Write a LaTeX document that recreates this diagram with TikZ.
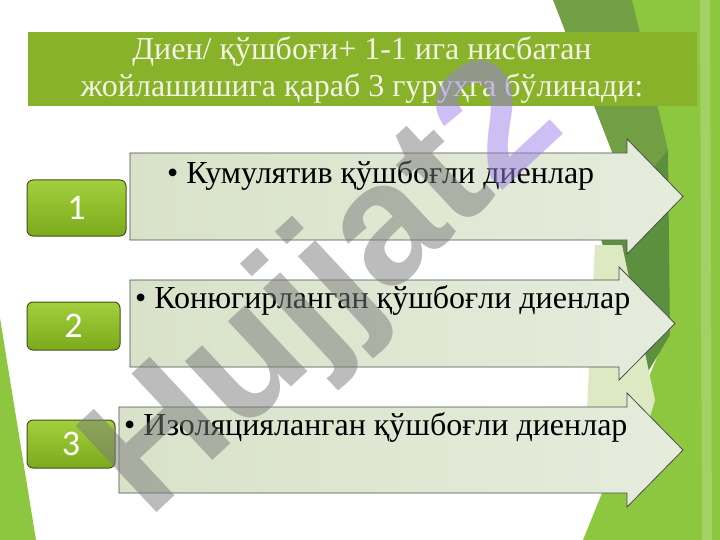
\documentclass[tikz,border=0pt]{standalone}
\usepackage{fontspec}
\setmainfont{Liberation Serif}
\newfontfamily\numfont{Carlito}
\newfontfamily\wmfont{Liberation Sans}
\definecolor{limeG}{HTML}{8DC63F}
\definecolor{oliveG}{HTML}{729E44}
\definecolor{darkG}{HTML}{5C903E}
\definecolor{paleG}{HTML}{DCE9C3}
\definecolor{titleG}{HTML}{87B22A}
\definecolor{titleT}{HTML}{F4F4E4}
\definecolor{arrowL}{HTML}{D9E2C9}
\definecolor{arrowR}{HTML}{E6ECDC}
\definecolor{numT}{HTML}{A2CF3C}
\definecolor{numBo}{HTML}{7BAA1C}
\definecolor{numB}{HTML}{46521E}
\definecolor{wmG}{HTML}{7A7A7A}
\definecolor{wmP}{HTML}{9C7FE8}
\begin{document}
\begin{tikzpicture}[x=1pt,y=-1pt,
  arrowbody/.style={draw=black!70, line width=0.8pt, left color=arrowL, right color=arrowR},
  numbox/.style={draw=numB, line width=1pt, rounded corners=6pt, top color=numT, bottom color=numBo,
     text=white, font=\numfont\fontsize{36}{36}\selectfont},
  itemtext/.style={anchor=west, text=black, font=\fontsize{32}{34}\selectfont, inner sep=0pt},
  titletext/.style={text=titleT, font=\fontsize{32}{34}\selectfont, inner sep=0pt},
  wmtext/.style={rotate=43, text=wmG, text opacity=0.5, font=\wmfont\bfseries\fontsize{172}{172}\selectfont}]
\useasboundingbox (0,0) rectangle (720,540);
\fill[white] (0,0) rectangle (720,540);
% background shapes
\fill[limeG] (628,0) -- (720,0) -- (720,540) -- (583,540) -- (668,330) -- (668,150) -- cycle;
\fill[oliveG] (553,0) -- (632,0) -- (668,150) -- (650,250) -- cycle;
\fill[limeG!80!white] (700,0) -- (710,0) -- (712,540) -- (702,540) -- cycle;
\fill[darkG] (600,235) -- (668,150) -- (670,335) -- (640,385) -- cycle;
\fill[paleG] (595,245) -- (622,245) -- (655,400) -- (640,450) -- (585,450) -- cycle;
\fill[limeG] (0,318) -- (36,540) -- (0,540) -- cycle;
% title band
\fill[titleG] (28,32) rectangle (697,106);
\node[titletext] (title1) at (362,52) {Диен/ қўшбоғи+ 1-1 ига нисбатан};
\node[titletext] (title2) at (362,89) {жойлашишига қараб 3 гуруҳга бўлинади:};
% arrows
\draw[arrowbody] (130,153) -- (627,153) -- (627,139) -- (683,196.5) -- (627,254) -- (627,240) -- (130,240) -- cycle;
\draw[arrowbody] (130,280) -- (619,280) -- (619,267) -- (675,323.5) -- (619,380) -- (619,367) -- (130,367) -- cycle;
\draw[arrowbody] (119,407) -- (627,407) -- (627,393) -- (683,450) -- (627,507) -- (627,493) -- (119,493) -- cycle;
% number boxes
\node[numbox, minimum width=99pt, minimum height=56pt] (n1) at (76.5,208) {1};
\node[numbox, minimum width=93pt, minimum height=48pt] (n2) at (73.5,326) {2};
\node[numbox, minimum width=88pt, minimum height=48pt] (n3) at (71,444) {3};
% item texts
\node[itemtext] (t1) at (167,176) {\textbullet\ Кумулятив қўшбоғли диенлар};
\node[itemtext] (t2) at (135,300) {\textbullet\ Конюгирланган қўшбоғли диенлар};
\node[itemtext] (t3) at (124,427) {\textbullet\ Изоляцияланган қўшбоғли диенлар};
% watermark
\node[wmtext] (wm) at (328,292) {Hujjat\textcolor{wmP}{2}};
\end{tikzpicture}
\end{document}
